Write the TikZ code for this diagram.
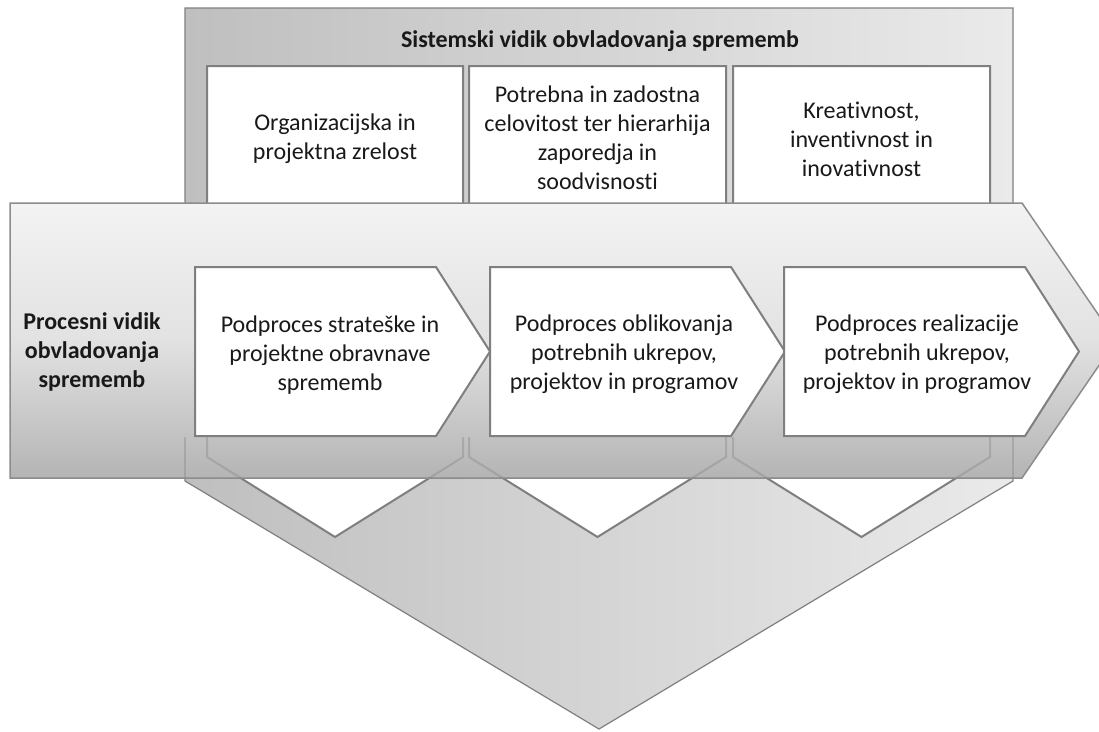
\documentclass[tikz,border=0pt]{standalone}
\usepackage{fontspec}
\setmainfont{Carlito}[Ligatures=NoCommon]
\definecolor{edgegray}{HTML}{7F7F7F}
\definecolor{bigL}{HTML}{BFBFBF}
\definecolor{bigR}{HTML}{EAEAEA}
\definecolor{bandT}{HTML}{F3F3F3}
\definecolor{bandM}{HTML}{E2E2E2}
\definecolor{bandB}{HTML}{B4B4B4}
\tikzset{
  bigshape/.style={draw=edgegray, line width=1.2pt, left color=bigL, right color=bigR},
  bandshape/.style={draw=edgegray!90, line width=1.5pt, top color=bandT, bottom color=bandB, middle color=bandM},
  downbox/.style={draw=edgegray, line width=2pt, fill=white, line join=miter},
  rightbox/.style={draw=edgegray, line width=2pt, fill=white, line join=miter},
  ghost/.style={draw=edgegray, line width=2pt, opacity=.35},
  txt/.style={font=\fontsize{24}{29}\selectfont, align=center, text=black!90, inner sep=0pt},
  boldtxt/.style={txt, font=\fontsize{24}{29}\selectfont\bfseries}
}
\begin{document}
\begin{tikzpicture}[x=1pt,y=-1pt]
\useasboundingbox (0,0) rectangle (1099,731);
\clip (0,0) rectangle (1099,731);
% big vertical chevron (system view)
\path[bigshape] (185,8) -- (1013,8) -- (1013,481) -- (599,729) -- (185,481) -- cycle;
\node[boldtxt, anchor=base] (systitle) at (600,47) {Sistemski vidik obvladovanja sprememb};
% three down chevrons
\foreach \l/\r in {207/463, 469/726, 733/990}{
  \path[downbox] (\l,66) -- (\r,66) -- (\r,457) -- ({(\l+\r)/2},537) -- (\l,457) -- cycle;
}
\node[txt] (sys1) at (335,139) {Organizacijska in\\projektna zrelost};
\node[txt] (sys2) at (597.5,137.5) {Potrebna in zadostna\\celovitost ter hierarhija\\zaporedja in\\soodvisnosti};
\node[txt] (sys3) at (861.5,139) {Kreativnost,\\inventivnost in\\inovativnost};
% horizontal band (process view)
\path[bandshape] (10,203) -- (1022,203) -- (1116,340.5) -- (1022,478) -- (10,478) -- cycle;
% outlines seen through the lower part of the band
\begin{scope}
  \clip (0,437) rectangle (1099,477);
  \foreach \l/\r in {207/463, 469/726, 733/990}{
    \draw[ghost] (\l,66) -- (\r,66) -- (\r,457) -- ({(\l+\r)/2},537) -- (\l,457) -- cycle;
  }
  \draw[ghost, line width=1.2pt] (185,8) -- (185,481) (1013,8) -- (1013,481);
\end{scope}
\node[boldtxt] (proctitle) at (92,352) {Procesni vidik\\obvladovanja\\sprememb};
% three right chevrons
\foreach \x in {195, 490, 784}{
  \path[rightbox] (\x,267) -- ({\x+241},267) -- ({\x+295},351.5) -- ({\x+241},436) -- (\x,436) -- cycle;
}
\node[txt] (proc1) at (330,355) {Podproces strateške in\\projektne obravnave\\sprememb};
\node[txt] (proc2) at (624,354) {Podproces oblikovanja\\potrebnih ukrepov,\\projektov in programov};
\node[txt] (proc3) at (917,354) {Podproces realizacije\\potrebnih ukrepov,\\projektov in programov};
\end{tikzpicture}
\end{document}
